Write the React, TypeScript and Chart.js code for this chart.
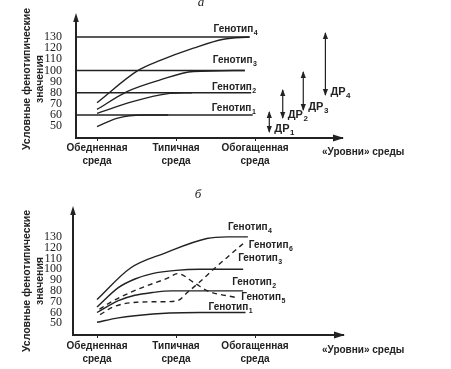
import React, { useEffect, useRef } from 'react';
import { Chart, registerables } from 'chart.js';

Chart.register(...registerables);

// ---------- shared text / categories ----------
const envLevels = [0, 1, 2];
const envLabels = [['Обедненная', 'среда'], ['Типичная', 'среда'], ['Обогащенная', 'среда']];
const yTickValues = [50, 60, 70, 80, 90, 100, 110, 120, 130];
const yAxisTitle = ['Условные фенотипические', 'значения'];
const xAxisTitle = '«Уровни» среды';
const genotypeWord = 'Генотип';
const reactionWord = 'ДР';

// ---------- panel а ----------
const aLevelValues = [60, 80, 100, 130]; // genotype 1..4
const aLevelEnds = [1.97, 1.95, 1.87, 1.93];
const aG1X = [0, 0.25, 0.58, 0.9];
const aG1Y = [49.5, 57, 60, 60];
const aG2X = [0, 0.45, 0.88, 1.2];
const aG2Y = [61.5, 72, 79, 80];
const aG3X = [0, 0.38, 0.8, 1.22, 1.87];
const aG3Y = [65, 81, 91.5, 99, 100];
const aG4X = [0, 0.52, 0.8, 1.22, 1.6, 1.93];
const aG4Y = [71, 100, 109, 120, 128, 130];
const drX = [2.18, 2.35, 2.61, 2.89];
const drLow = [44.7, 57.3, 64.5, 78];
const drHigh = [62.7, 82.4, 98.6, 133.6];
const drSubs = ['1', '2', '3', '4'];

// ---------- panel б ----------
const bG1X = [0, 0.27, 0.48, 0.92, 1.3, 1.88];
const bG1Y = [51, 55, 57, 59.5, 60, 60];
const bG2X = [0, 0.27, 0.48, 0.7, 0.95, 1.85];
const bG2Y = [60, 71, 76, 78.5, 80, 80];
const bG3X = [0, 0.27, 0.48, 0.7, 1.0, 1.3, 1.85];
const bG3Y = [65, 83, 91, 96, 99, 100, 100];
const bG4X = [0, 0.42, 0.86, 1.39, 1.65, 1.91];
const bG4Y = [72, 101, 115, 128.5, 130, 130];
const bG5X = [0.03, 0.16, 0.5, 0.9, 1.02, 1.24, 1.4, 1.75];
const bG5Y = [63, 69, 81, 92, 96, 87, 80, 74];
const bG6X = [0.04, 0.2, 0.5, 0.85, 1.02, 1.15, 1.28, 1.49, 1.71, 1.87];
const bG6Y = [58, 65, 69.5, 70, 71, 79, 87, 101, 115, 125];

// ---------- styling ----------
const INK = '#222';
const SANS = '"Liberation Sans", Arial, sans-serif';
const SERIF = '"Liberation Serif", "DejaVu Serif", serif';

const pts = (xs: number[], ys: number[]) => xs.map((x, i) => ({ x, y: ys[i] }));

const solid = (data: any[], width = 1.4) => ({
  data,
  borderColor: INK,
  borderWidth: width,
  pointRadius: 0,
  fill: false,
  cubicInterpolationMode: 'monotone' as const,
});
const dashed = (data: any[]) => ({ ...solid(data, 1.4), borderDash: [5, 4] });

type LabelSpec = { ds: number; sub: string; dx: number; dy: number };

function drawSub(ctx: CanvasRenderingContext2D, word: string, sub: string, x: number, y: number, size: number) {
  ctx.textAlign = 'left';
  ctx.textBaseline = 'middle';
  ctx.font = `bold ${size}px ${SANS}`;
  ctx.fillText(word, x, y);
  const w = ctx.measureText(word).width;
  ctx.font = `bold ${Math.round(size * 0.72)}px ${SANS}`;
  ctx.fillText(sub, x + w + 0.5, y + size * 0.38);
}

function makeOverlay(o: {
  letter: string;
  letterPos: [number, number];
  yTitleY: number;
  xTitlePos: [number, number];
  labels: LabelSpec[];
  drFirst?: number;
}) {
  return {
    id: 'overlay',
    afterDraw(chart: any) {
      const { ctx, chartArea: ca } = chart;
      ctx.save();
      ctx.fillStyle = INK;
      ctx.strokeStyle = INK;
      // axis arrow heads
      ctx.beginPath();
      ctx.moveTo(ca.left, ca.top - 4);
      ctx.lineTo(ca.left - 2.8, ca.top + 5);
      ctx.lineTo(ca.left + 2.8, ca.top + 5);
      ctx.closePath();
      ctx.fill();
      ctx.beginPath();
      ctx.moveTo(ca.right + 2, ca.bottom);
      ctx.lineTo(ca.right - 9, ca.bottom - 3.5);
      ctx.lineTo(ca.right - 9, ca.bottom + 3.5);
      ctx.closePath();
      ctx.fill();

      // y title (two rotated lines)
      ctx.font = `bold 10.5px ${SANS}`;
      ctx.textAlign = 'center';
      ctx.textBaseline = 'middle';
      yAxisTitle.forEach((line, i) => {
        ctx.save();
        ctx.translate(27 + i * 13, o.yTitleY);
        ctx.rotate(-Math.PI / 2);
        ctx.fillText(line, 0, 0);
        ctx.restore();
      });

      // x axis "levels" title
      ctx.font = `bold 10px ${SANS}`;
      ctx.textAlign = 'left';
      ctx.fillText(xAxisTitle, o.xTitlePos[0], o.xTitlePos[1]);

      // panel letter
      ctx.font = `italic 13px ${SERIF}`;
      ctx.textAlign = 'center';
      ctx.fillText(o.letter, o.letterPos[0], o.letterPos[1]);

      // genotype labels
      o.labels.forEach((l) => {
        const meta = chart.getDatasetMeta(l.ds);
        const p = meta.data[meta.data.length - 1];
        drawSub(ctx, genotypeWord, l.sub, p.x + l.dx, p.y + l.dy, 10);
      });

      // reaction-range arrows
      if (o.drFirst !== undefined) {
        drSubs.forEach((sub, i) => {
          const meta = chart.getDatasetMeta(o.drFirst! + i);
          const lo = meta.data[0];
          const hi = meta.data[1];
          ctx.beginPath();
          ctx.moveTo(lo.x, lo.y + 1);
          ctx.lineTo(lo.x - 2.6, lo.y - 6);
          ctx.lineTo(lo.x + 2.6, lo.y - 6);
          ctx.closePath();
          ctx.fill();
          ctx.beginPath();
          ctx.moveTo(hi.x, hi.y - 1);
          ctx.lineTo(hi.x - 2.6, hi.y + 6);
          ctx.lineTo(hi.x + 2.6, hi.y + 6);
          ctx.closePath();
          ctx.fill();
          drawSub(ctx, reactionWord, sub, lo.x + 5, lo.y - 3, 11);
        });
      }
      ctx.restore();
    },
  };
}

function scalesFor(xMin: number, xMax: number, yMin: number, yMax: number, yWidth: number, yPad: number, xPad: number) {
  return {
    x: {
      type: 'linear' as const,
      min: xMin,
      max: xMax,
      afterBuildTicks: (s: any) => {
        s.ticks = envLevels.map((v) => ({ value: v }));
      },
      afterFit: (s: any) => {
        s.height = 30;
      },
      ticks: {
        callback: (_v: any, i: number) => envLabels[i],
        font: { family: SANS, size: 10, weight: 'bold' as const, lineHeight: 1.3 },
        color: INK,
        padding: xPad,
        maxRotation: 0,
        autoSkip: false,
      },
      grid: { drawOnChartArea: false, tickLength: 3, color: INK, lineWidth: 1 },
      border: { color: INK, width: 2 },
    },
    y: {
      type: 'linear' as const,
      min: yMin,
      max: yMax,
      afterBuildTicks: (s: any) => {
        s.ticks = yTickValues.map((v) => ({ value: v }));
      },
      afterFit: (s: any) => {
        s.width = yWidth;
      },
      ticks: {
        font: { family: SERIF, size: 12 },
        color: INK,
        padding: yPad,
        autoSkip: false,
      },
      grid: { display: false },
      border: { color: INK, width: 2 },
    },
  };
}

function buildA() {
  const xMin = -0.266;
  const datasets: any[] = [];
  aLevelValues.forEach((v, i) => datasets.push(solid([{ x: xMin, y: v }, { x: aLevelEnds[i], y: v }], 1.6)));
  datasets.push(solid(pts(aG1X, aG1Y)));
  datasets.push(solid(pts(aG2X, aG2Y)));
  datasets.push(solid(pts(aG3X, aG3Y)));
  datasets.push(solid(pts(aG4X, aG4Y)));
  const drFirst = datasets.length;
  drX.forEach((x, i) => datasets.push(solid([{ x, y: drLow[i] }, { x, y: drHigh[i] }], 1.2)));
  return {
    type: 'line' as const,
    data: { datasets },
    options: {
      animation: false as const,
      responsive: false,
      devicePixelRatio: 1,
      layout: { padding: { left: 0, right: 109, top: 17, bottom: 12 } },
      plugins: { legend: { display: false }, tooltip: { enabled: false } },
      scales: scalesFor(xMin, 3.1, 39.35, 147.97, 76, 6, 1),
    },
    plugins: [
      makeOverlay({
        letter: 'а',
        letterPos: [201, 3],
        yTitleY: 79,
        xTitlePos: [322, 152],
        labels: [
          { ds: 0, sub: '1', dx: -41, dy: -7 },
          { ds: 1, sub: '2', dx: -39, dy: -5 },
          { ds: 2, sub: '3', dx: -32, dy: -10 },
          { ds: 3, sub: '4', dx: -36, dy: -8 },
        ],
        drFirst,
      }),
    ],
  };
}

function buildB() {
  const datasets: any[] = [
    solid(pts(bG1X, bG1Y)),
    solid(pts(bG2X, bG2Y)),
    solid(pts(bG3X, bG3Y)),
    solid(pts(bG4X, bG4Y)),
    dashed(pts(bG5X, bG5Y)),
    dashed(pts(bG6X, bG6Y)),
  ];
  return {
    type: 'line' as const,
    data: { datasets },
    options: {
      animation: false as const,
      responsive: false,
      devicePixelRatio: 1,
      layout: { padding: { left: 0, right: 108, top: 30, bottom: 4 } },
      plugins: { legend: { display: false }, tooltip: { enabled: false } },
      scales: scalesFor(-0.304, 3.114, 39.17, 154.9, 73, 3, 2),
    },
    plugins: [
      makeOverlay({
        letter: 'б',
        letterPos: [198, 15],
        yTitleY: 101,
        xTitlePos: [322, 170],
        labels: [
          { ds: 0, sub: '1', dx: -37, dy: -5 },
          { ds: 1, sub: '2', dx: -11, dy: -9 },
          { ds: 2, sub: '3', dx: -5, dy: -11 },
          { ds: 3, sub: '4', dx: -20, dy: -10 },
          { ds: 4, sub: '5', dx: 6, dy: 0 },
          { ds: 5, sub: '6', dx: 4, dy: 3 },
        ],
      }),
    ],
  };
}

function Panel({ build, width, height }: { build: () => any; width: number; height: number }) {
  const ref = useRef<HTMLCanvasElement>(null);
  useEffect(() => {
    const chart = new Chart(ref.current as HTMLCanvasElement, build());
    return () => chart.destroy();
  }, [build]);
  return <canvas ref={ref} width={width} height={height} style={{ display: 'block', width, height }} />;
}

export default function App() {
  return (
    <div style={{ position: 'absolute', left: 0, top: 0, width: 451, height: 369, background: '#fff' }}>
      <Panel build={buildA} width={451} height={180} />
      <Panel build={buildB} width={451} height={189} />
    </div>
  );
}
